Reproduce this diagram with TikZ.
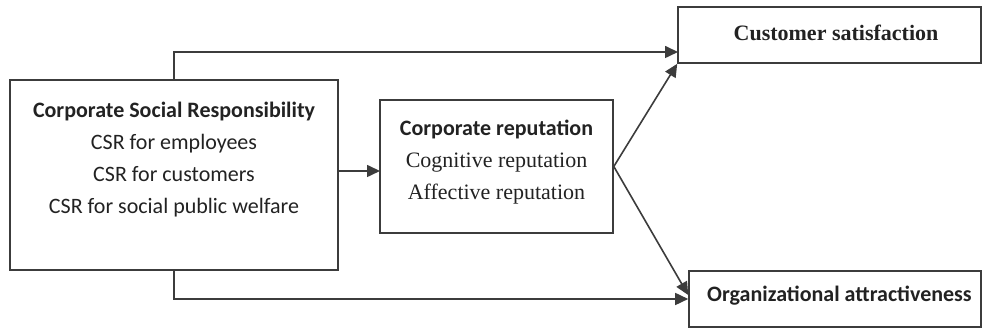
\documentclass[tikz,border=0pt]{standalone}
\usepackage{fontspec}
\setmainfont{Liberation Serif}
\setsansfont{Carlito}
\usetikzlibrary{arrows.meta}
\definecolor{linegray}{HTML}{3C3C3C}
\definecolor{textgray}{HTML}{222222}
\tikzset{
	box/.style={draw=linegray, line width=1.6pt, inner sep=0pt},
	txt/.style={align=center, text=textgray, font=\fontsize{22}{32}\selectfont},
	link/.style={draw=linegray, line width=1.6pt, ->},
	>={Triangle[length=13pt, width=12pt]}
}
\begin{document}
\begin{tikzpicture}[x=1pt, y=1pt]
		\useasboundingbox (0,0) rectangle (982,328);
		
		%Boxes
		\node[box, minimum width=328, minimum height=190] (csr) at (174,153) {};
		\node[box, minimum width=233, minimum height=133] (cr) at (496.5,161.5) {};
		\node[box, minimum width=303, minimum height=56] (cs) at (829.5,293) {};
		\node[box, minimum width=292, minimum height=56] (org) at (835,29) {};
		
		%Texts
		\node[txt] (csr_txt) at (174,168.5) {\sffamily\bfseries Corporate Social Responsibility\\ \sffamily CSR for employees\\ \sffamily CSR for customers\\ \sffamily CSR for social public welfare};
		\node[txt] (cr_txt) at (496.5,166) {\sffamily\bfseries Corporate reputation\\ Cognitive reputation\\ Affective reputation};
		\node[txt] (cs_txt) at (836,295) {\bfseries Customer satisfaction};
		\node[txt] (org_txt) at (839.5,32) {\sffamily\bfseries Organizational attractiveness};
		
		%connections
		\coordinate (cr_in) at (380,157);
		\coordinate (cs_in) at (678,276);
		\draw[link] (csr.east |- cr_in) -- (cr_in);
		\draw[link] (csr.north) |- (cs_in);
		\draw[link] (csr.south) |- (org.west);
		\draw[link] (cr.east) -- (cs.south west);
		\draw[link] (cr.east) -- ([yshift=4pt]org.west);
		
	\end{tikzpicture}
\end{document}
